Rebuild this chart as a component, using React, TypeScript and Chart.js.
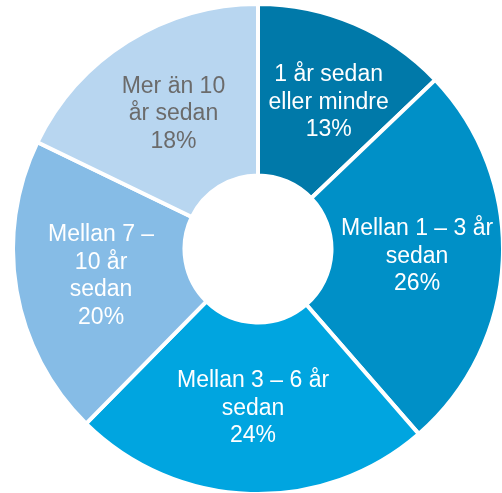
import React, { useEffect, useRef } from "react";
import { Chart, registerables } from "chart.js";

Chart.register(...registerables);

const categories = [
  "1 år sedan eller mindre",
  "Mellan 1 – 3 år sedan",
  "Mellan 3 – 6 år sedan",
  "Mellan 7 – 10 år sedan",
  "Mer än 10 år sedan",
];
const values = [13, 26, 24, 20, 18];
const labelLines = [
  ["1 år sedan", "eller mindre", "13%"],
  ["Mellan 1 – 3 år", "sedan", "26%"],
  ["Mellan 3 – 6 år", "sedan", "24%"],
  ["Mellan 7 –", "10 år", "sedan", "20%"],
  ["Mer än 10", "år sedan", "18%"],
];
const colors = ["#0079A9", "#0090C7", "#00A5E0", "#86BCE6", "#B8D6F0"];
const textColors = ["#ffffff", "#ffffff", "#ffffff", "#ffffff", "#6B6B6B"];
const labelNudge = [[8, 0], [0, 0], [0, 0], [0, 0], [0, 0]];

const labelPlugin = {
  id: "sliceLabels",
  afterDatasetsDraw(chart: any) {
    const ctx = chart.ctx;
    const meta = chart.getDatasetMeta(0);
    ctx.save();
    ctx.font = '23px "Liberation Sans", Arial, sans-serif';
    ctx.textAlign = "center";
    ctx.textBaseline = "middle";
    const lh = 27.5;
    meta.data.forEach((arc: any, i: number) => {
      const p = arc.tooltipPosition();
      const lines = labelLines[i];
      const x = p.x + labelNudge[i][0];
      const y0 = p.y + labelNudge[i][1] - ((lines.length - 1) * lh) / 2;
      ctx.fillStyle = textColors[i];
      lines.forEach((t, j) => ctx.fillText(t, x, y0 + j * lh));
    });
    ctx.restore();
  },
};

export default function App() {
  const ref = useRef<HTMLCanvasElement>(null);
  useEffect(() => {
    if (!ref.current) return;
    const chart = new Chart(ref.current, {
      type: "doughnut",
      data: {
        labels: categories,
        datasets: [
          {
            data: values,
            backgroundColor: colors,
            borderColor: "#ffffff",
            borderWidth: 4,
          },
        ],
      },
      options: {
        responsive: false,
        animation: false,
        cutout: "30%",
        layout: { padding: 0 },
        plugins: {
          legend: { display: false },
          tooltip: { enabled: false },
        },
      },
      plugins: [labelPlugin],
    });
    return () => chart.destroy();
  }, []);
  return (
    <div
      style={{
        position: "fixed",
        left: 0,
        top: 0,
        width: 502,
        height: 493,
        overflow: "hidden",
        background: "#fff",
      }}
    >
      <canvas
        ref={ref}
        width={494}
        height={494}
        style={{ position: "absolute", left: 11, top: 2, width: 494, height: 494 }}
      />
    </div>
  );
}
